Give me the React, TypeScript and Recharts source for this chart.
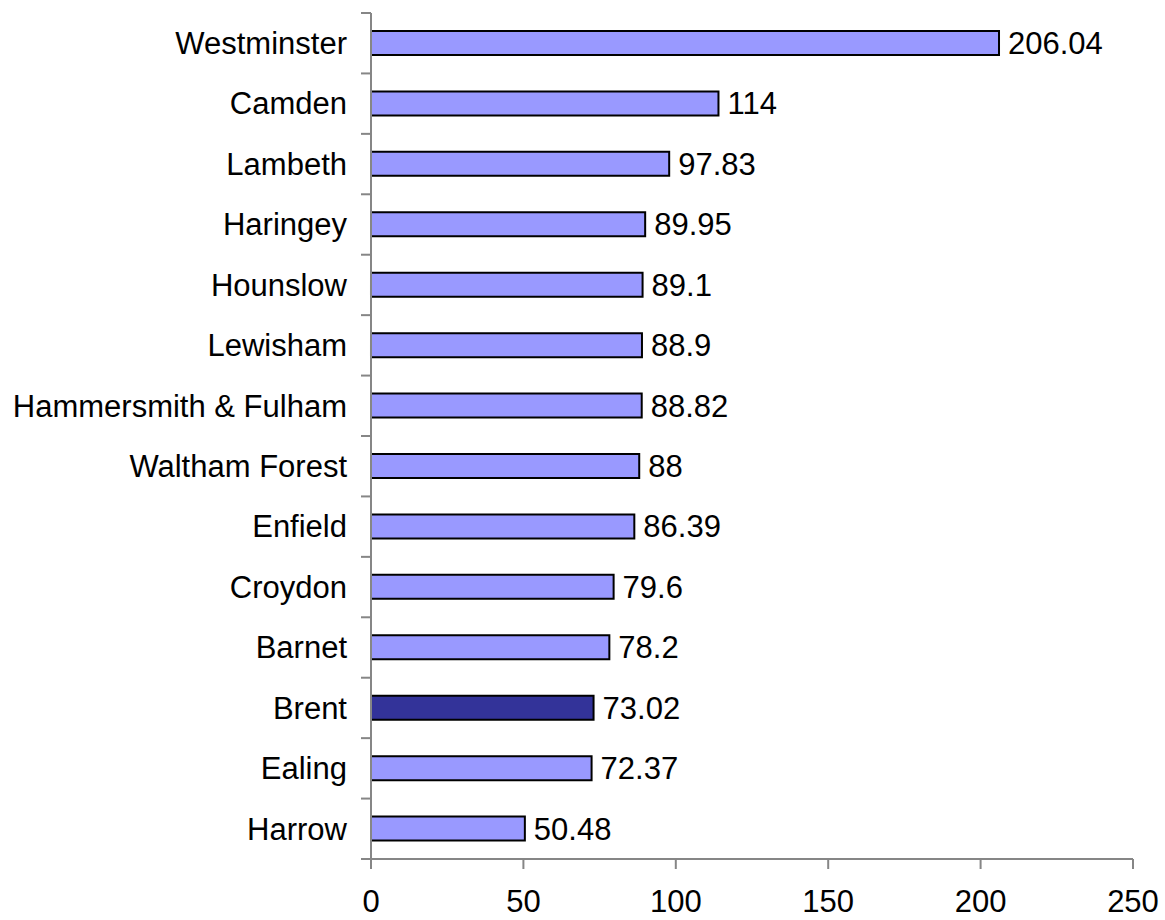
import { BarChart, Bar, XAxis, YAxis, Cell, LabelList } from 'recharts';

const BOROUGHS = [
  'Westminster',
  'Camden',
  'Lambeth',
  'Haringey',
  'Hounslow',
  'Lewisham',
  'Hammersmith & Fulham',
  'Waltham Forest',
  'Enfield',
  'Croydon',
  'Barnet',
  'Brent',
  'Ealing',
  'Harrow',
];
const VALUES = [206.04, 114, 97.83, 89.95, 89.1, 88.9, 88.82, 88, 86.39, 79.6, 78.2, 73.02, 72.37, 50.48];
const HIGHLIGHT = 'Brent';
const X_TICKS = [0, 50, 100, 150, 200, 250];

const FONT = '"Liberation Sans", Arial, sans-serif';
const AXIS_COLOR = '#868686';
const YAXIS_W = 371;
const TOP = 13;
const XAXIS_H = 61;

const chartData = BOROUGHS.map((name, i) => ({ name, value: VALUES[i] }));

// category labels + tick marks on the band boundaries
const CategoryTick = (props: any) => {
  const { y, payload, index, visibleTicksCount } = props;
  const half = payload.offset ?? 0;
  const last = index === visibleTicksCount - 1;
  return (
    <g>
      <line x1={YAXIS_W - 10} x2={YAXIS_W} y1={y - half} y2={y - half} stroke={AXIS_COLOR} strokeWidth={2} />
      {last && (
        <line x1={YAXIS_W - 10} x2={YAXIS_W} y1={y + half} y2={y + half} stroke={AXIS_COLOR} strokeWidth={2} />
      )}
      <text x={YAXIS_W - 24} y={y} dy="0.35em" textAnchor="end" fontSize={31} fontFamily={FONT} fill="#000">
        {payload.value}
      </text>
    </g>
  );
};

const ValueTick = (props: any) => {
  const { x, y, payload } = props;
  return (
    <text x={x} y={y} dy="0.71em" textAnchor="middle" fontSize={31} fontFamily={FONT} fill="#000">
      {payload.value}
    </text>
  );
};

export default function App() {
  return (
    <div style={{ position: 'absolute', left: 0, top: 0, background: '#fff' }}>
      <BarChart
        width={1165}
        height={920}
        data={chartData}
        layout="vertical"
        margin={{ top: TOP, right: 32, bottom: 0, left: 0 }}
      >
        <XAxis
          type="number"
          domain={[0, 250]}
          ticks={X_TICKS}
          height={XAXIS_H}
          tickSize={10}
          tickMargin={21}
          tick={<ValueTick />}
          axisLine={{ stroke: AXIS_COLOR, strokeWidth: 2 }}
          tickLine={{ stroke: AXIS_COLOR, strokeWidth: 2 }}
        />
        <YAxis
          type="category"
          dataKey="name"
          width={YAXIS_W}
          tickLine={false}
          tick={<CategoryTick />}
          interval={0}
          axisLine={{ stroke: AXIS_COLOR, strokeWidth: 2 }}
        />
        <Bar dataKey="value" barSize={24} stroke="#000" strokeWidth={2} isAnimationActive={false}>
          {chartData.map((d) => (
            <Cell key={d.name} fill={d.name === HIGHLIGHT ? '#333399' : '#9999FF'} />
          ))}
          <LabelList
            dataKey="value"
            position="right"
            offset={9}
            fontSize={31}
            fontFamily={FONT}
            fill="#000"
          />
        </Bar>
      </BarChart>
    </div>
  );
}
